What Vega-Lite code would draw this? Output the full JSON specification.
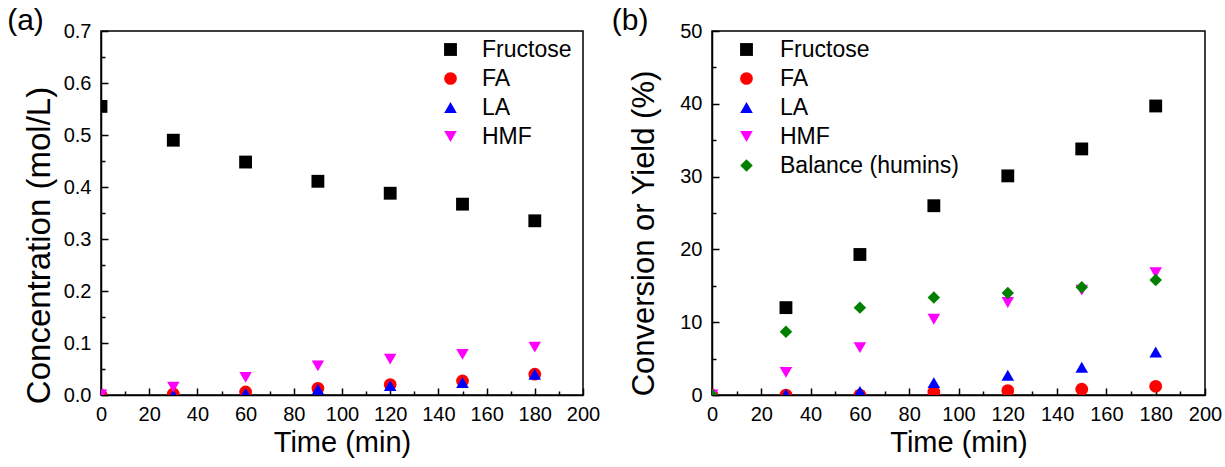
{
  "$schema": "https://vega.github.io/schema/vega-lite/v6.json",
  "padding": {"left": 6, "top": 5, "right": 5, "bottom": 5},
  "background": "white",
  "config": {
    "font": "Liberation Sans",
    "view": {"stroke": "black", "strokeWidth": 1.5},
    "axis": {
      "domainColor": "black", "domainWidth": 1.5,
      "tickColor": "black", "tickWidth": 1.5,
      "labelColor": "black", "labelFontSize": 20, "labelFont": "Liberation Sans",
      "titleColor": "black", "titleFontSize": 29, "titleFontWeight": "normal", "titleFont": "Liberation Sans",
      "grid": false, "zindex": 2
    },
    "legend": {
      "labelFontSize": 23, "labelFont": "Liberation Sans", "labelColor": "black", "labelLimit": 400,
      "symbolSize": 130, "symbolStrokeWidth": 0, "labelOffset": 20, "rowPadding": 5,
      "title": null, "padding": 0
    },
    "title": {"fontSize": 30, "fontWeight": "normal", "font": "Liberation Sans", "color": "black"}
  },
  "datasets": {
    "a": [
      {"series": "Fructose", "time": 0, "value": 0.555},
      {"series": "Fructose", "time": 30, "value": 0.49},
      {"series": "Fructose", "time": 60, "value": 0.448},
      {"series": "Fructose", "time": 90, "value": 0.411},
      {"series": "Fructose", "time": 120, "value": 0.388},
      {"series": "Fructose", "time": 150, "value": 0.367},
      {"series": "Fructose", "time": 180, "value": 0.335},
      {"series": "FA", "time": 0, "value": 0.0},
      {"series": "FA", "time": 30, "value": 0.002},
      {"series": "FA", "time": 60, "value": 0.006},
      {"series": "FA", "time": 90, "value": 0.013},
      {"series": "FA", "time": 120, "value": 0.02},
      {"series": "FA", "time": 150, "value": 0.027},
      {"series": "FA", "time": 180, "value": 0.04},
      {"series": "LA", "time": 0, "value": 0.002},
      {"series": "LA", "time": 30, "value": 0.0},
      {"series": "LA", "time": 60, "value": 0.003},
      {"series": "LA", "time": 90, "value": 0.011},
      {"series": "LA", "time": 120, "value": 0.018},
      {"series": "LA", "time": 150, "value": 0.024},
      {"series": "LA", "time": 180, "value": 0.04},
      {"series": "HMF", "time": 0, "value": 0.0},
      {"series": "HMF", "time": 30, "value": 0.015},
      {"series": "HMF", "time": 60, "value": 0.034},
      {"series": "HMF", "time": 90, "value": 0.056},
      {"series": "HMF", "time": 120, "value": 0.069},
      {"series": "HMF", "time": 150, "value": 0.078},
      {"series": "HMF", "time": 180, "value": 0.092}
    ],
    "b": [
      {"series": "Fructose", "time": 30, "value": 12.0},
      {"series": "Fructose", "time": 60, "value": 19.3},
      {"series": "Fructose", "time": 90, "value": 26.0},
      {"series": "Fructose", "time": 120, "value": 30.1},
      {"series": "Fructose", "time": 150, "value": 33.8},
      {"series": "Fructose", "time": 180, "value": 39.7},
      {"series": "FA", "time": 0, "value": 0.0},
      {"series": "FA", "time": 30, "value": 0.0},
      {"series": "FA", "time": 60, "value": 0.0},
      {"series": "FA", "time": 90, "value": 0.4},
      {"series": "FA", "time": 120, "value": 0.6},
      {"series": "FA", "time": 150, "value": 0.8},
      {"series": "FA", "time": 180, "value": 1.2},
      {"series": "LA", "time": 0, "value": 0.0},
      {"series": "LA", "time": 30, "value": 0.1},
      {"series": "LA", "time": 60, "value": 0.5},
      {"series": "LA", "time": 90, "value": 1.7},
      {"series": "LA", "time": 120, "value": 2.7},
      {"series": "LA", "time": 150, "value": 3.8},
      {"series": "LA", "time": 180, "value": 5.9},
      {"series": "HMF", "time": 0, "value": 0.0},
      {"series": "HMF", "time": 30, "value": 3.1},
      {"series": "HMF", "time": 60, "value": 6.5},
      {"series": "HMF", "time": 90, "value": 10.4},
      {"series": "HMF", "time": 120, "value": 12.7},
      {"series": "HMF", "time": 150, "value": 14.4},
      {"series": "HMF", "time": 180, "value": 16.8},
      {"series": "Balance (humins)", "time": 0, "value": 0.0},
      {"series": "Balance (humins)", "time": 30, "value": 8.7},
      {"series": "Balance (humins)", "time": 60, "value": 12.0},
      {"series": "Balance (humins)", "time": 90, "value": 13.4},
      {"series": "Balance (humins)", "time": 120, "value": 14.0},
      {"series": "Balance (humins)", "time": 150, "value": 14.8},
      {"series": "Balance (humins)", "time": 180, "value": 15.8}
    ]
  },
  "hconcat": [
    {
      "width": 482, "height": 364,
      "title": {"text": "(a)", "anchor": "start", "frame": "bounds", "offset": -15, "dx": -16},
      "data": {"name": "a"},
      "mark": {"type": "point", "filled": true, "opacity": 1, "clip": true, "strokeWidth": 0},
      "encoding": {
        "x": {
          "field": "time", "type": "quantitative",
          "scale": {"domain": [0, 200], "nice": false},
          "axis": {
            "title": "Time (min)",
            "values": [0,10,20,30,40,50,60,70,80,90,100,110,120,130,140,150,160,170,180,190,200],
            "labelExpr": "datum.value % 20 === 0 ? datum.label : ''",
            "tickSize": {"condition": {"test": "datum.value % 20 === 0", "value": -7}, "value": -4},
            "labelPadding": 16, "titlePadding": 4, "labelFlush": false
          }
        },
        "y": {
          "field": "value", "type": "quantitative",
          "scale": {"domain": [0, 0.7], "nice": false},
          "axis": {
            "title": "Concentration (mol/L)", "titleFontSize": 33, "titleY": 214,
            "values": [0,0.05,0.1,0.15,0.2,0.25,0.3,0.35,0.4,0.45,0.5,0.55,0.6,0.65,0.7],
            "labelExpr": "round(datum.value*100) % 10 === 0 ? format(datum.value, '.1f') : ''",
            "tickSize": {"condition": {"test": "round(datum.value*100) % 10 === 0", "value": -7}, "value": -4},
            "labelPadding": 17, "titlePadding": 7
          }
        },
        "color": {
          "field": "series", "type": "nominal",
          "scale": {"domain": ["Fructose", "FA", "LA", "HMF"], "range": ["#000000", "#ff0000", "#0000ff", "#ff00ff"]},
          "legend": {"orient": "none", "legendX": 338, "legendY": 7}
        },
        "shape": {
          "field": "series", "type": "nominal",
          "scale": {"domain": ["Fructose", "FA", "LA", "HMF"], "range": ["square", "circle", "triangle-up", "triangle-down"]},
          "legend": {"orient": "none", "legendX": 338, "legendY": 7}
        },
        "size": {
          "field": "series", "type": "nominal",
          "scale": {"domain": ["Fructose", "FA", "LA", "HMF"], "range": [165, 155, 240, 240]},
          "legend": null
        }
      }
    },
    {
      "width": 493, "height": 364,
      "title": {"text": "(b)", "anchor": "start", "frame": "bounds", "offset": -15, "dx": -17},
      "data": {"name": "b"},
      "mark": {"type": "point", "filled": true, "opacity": 1, "clip": true, "strokeWidth": 0},
      "encoding": {
        "x": {
          "field": "time", "type": "quantitative",
          "scale": {"domain": [0, 200], "nice": false},
          "axis": {
            "title": "Time (min)",
            "values": [0,10,20,30,40,50,60,70,80,90,100,110,120,130,140,150,160,170,180,190,200],
            "labelExpr": "datum.value % 20 === 0 ? datum.label : ''",
            "tickSize": {"condition": {"test": "datum.value % 20 === 0", "value": -7}, "value": -4},
            "labelPadding": 16, "titlePadding": 4, "labelFlush": false
          }
        },
        "y": {
          "field": "value", "type": "quantitative",
          "scale": {"domain": [0, 50], "nice": false},
          "axis": {
            "title": "Conversion or Yield (%)", "titleFontSize": 31, "titleY": 202,
            "values": [0,5,10,15,20,25,30,35,40,45,50],
            "labelExpr": "datum.value % 10 === 0 ? datum.label : ''",
            "tickSize": {"condition": {"test": "datum.value % 10 === 0", "value": -7}, "value": -4},
            "labelPadding": 17, "titlePadding": 19
          }
        },
        "color": {
          "field": "series", "type": "nominal",
          "scale": {"domain": ["Fructose", "FA", "LA", "HMF", "Balance (humins)"], "range": ["#000000", "#ff0000", "#0000ff", "#ff00ff", "#008000"]},
          "legend": {"orient": "none", "legendX": 23, "legendY": 7, "labelOffset": 22}
        },
        "shape": {
          "field": "series", "type": "nominal",
          "scale": {"domain": ["Fructose", "FA", "LA", "HMF", "Balance (humins)"], "range": ["square", "circle", "triangle-up", "triangle-down", "diamond"]},
          "legend": {"orient": "none", "legendX": 23, "legendY": 7, "labelOffset": 22}
        },
        "size": {
          "field": "series", "type": "nominal",
          "scale": {"domain": ["Fructose", "FA", "LA", "HMF", "Balance (humins)"], "range": [165, 155, 240, 240, 230]},
          "legend": null
        }
      }
    }
  ],
  "resolve": {"scale": {"color": "independent", "shape": "independent", "size": "independent"}},
  "spacing": 10
}
